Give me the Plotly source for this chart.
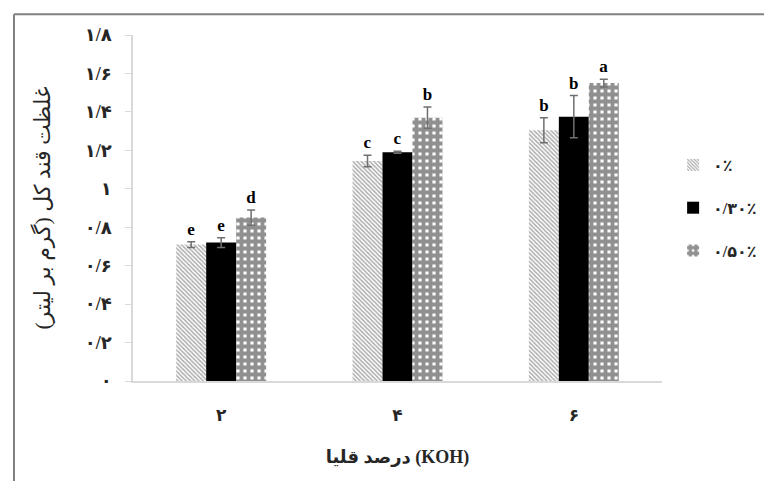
import plotly.graph_objects as go

categories = ["۲", "۴", "۶"]
series_names = ["۰٪", "۰/۳۰٪", "۰/۵۰٪"]
values_0 = [0.71, 1.145, 1.305]
values_30 = [0.72, 1.19, 1.375]
values_50 = [0.85, 1.37, 1.55]
err_0 = [0.015, 0.03, 0.065]
err_30 = [0.025, 0.005, 0.11]
err_50 = [0.04, 0.055, 0.02]
letters_0 = ["e", "c", "b"]
letters_30 = ["e", "c", "b"]
letters_50 = ["d", "b", "a"]
y_tick_values = [0, 0.2, 0.4, 0.6, 0.8, 1.0, 1.2, 1.4, 1.6, 1.8]
y_tick_labels = ["۰", "۰/۲", "۰/۴", "۰/۶", "۰/۸", "۱", "۱/۲", "۱/۴", "۱/۶", "۱/۸"]
y_title = "غلظت قند کل (گرم بر لیتر)"
x_title = "درصد قلیا (KOH)"

FONT = "Liberation Serif, DejaVu Sans"

values = [values_0, values_30, values_50]
errors = [err_0, err_30, err_50]
letters = [letters_0, letters_30, letters_50]
patterns = [
    dict(shape="\\", fgcolor="#5a5a5a", bgcolor="#ffffff", size=3, solidity=0.5),
    dict(shape="", fgcolor="#000000", bgcolor="#000000"),
    dict(shape="+", fgcolor="#222222", bgcolor="#ffffff", size=7, solidity=0.8),
]
colors = ["#ffffff", "#000000", "#ffffff"]
groups = ["g0", "g1", "g2"]

fig = go.Figure()
for i in range(3):
    fig.add_trace(go.Bar(
        x=categories, y=values[i], name=series_names[i],
        offsetgroup=groups[i], legendgroup=groups[i],
        marker=dict(color=colors[i], pattern=patterns[i], line=dict(width=0)),
        error_y=dict(type="data", array=errors[i], visible=True,
                     color="#6f6f6f", thickness=1.5, width=4),
    ))
for i in range(3):
    tops = [v + e for v, e in zip(values[i], errors[i])]
    fig.add_trace(go.Bar(
        x=categories, y=tops, offsetgroup=groups[i], showlegend=False,
        marker=dict(color="rgba(0,0,0,0)", line=dict(width=0)),
        text=letters[i], textposition="outside", cliponaxis=False,
        textfont=dict(family=FONT, size=17, color="#000000", weight="bold"),
        hoverinfo="skip",
    ))

# outer chart frame (left and top edges)
fig.add_shape(type="line", xref="paper", yref="paper",
              x0=-0.225, y0=-0.30, x1=-0.225, y1=1.06,
              line=dict(color="rgb(128,128,128)", width=2), layer="above")
fig.add_shape(type="line", xref="paper", yref="paper",
              x0=-0.225, y0=1.06, x1=1.22, y1=1.06,
              line=dict(color="rgb(128,128,128)", width=2), layer="above")

fig.update_layout(
    width=772, height=481,
    margin=dict(l=125, r=118, t=27, b=108, autoexpand=False),
    paper_bgcolor="#ffffff", plot_bgcolor="#ffffff",
    barmode="group", bargap=0.49, bargroupgap=0,
    font=dict(family=FONT, color="#262626"),
    legend=dict(x=1.021, y=0.5, xanchor="left", yanchor="middle",
                tracegroupgap=19, font=dict(size=16, family=FONT, color="#262626", weight="bold"),
                bgcolor="rgba(0,0,0,0)"),
    showlegend=True,
)
fig.update_xaxes(
    automargin=False,
    showline=True, linecolor="#d9d9d9", linewidth=1.5,
    ticks="", showgrid=False, ticklabelstandoff=18,
    tickfont=dict(size=17, family=FONT, color="#262626", weight="bold"),
    title=dict(text=x_title, standoff=26,
               font=dict(size=18, family=FONT, color="#262626", weight="bold")),
)
fig.update_yaxes(
    automargin=False,
    range=[0, 1.8], tickvals=y_tick_values, ticktext=y_tick_labels,
    showline=True, linecolor="#d9d9d9", linewidth=1.5,
    ticks="outside", ticklen=6, tickcolor="#d9d9d9", showgrid=False,
    zeroline=False, ticklabelstandoff=10,
    tickfont=dict(size=18, family=FONT, color="#262626", weight="bold"),
    title=dict(text=y_title, standoff=28,
               font=dict(size=22, family=FONT, color="#262626")),
)
fig.write_html("out.html")
